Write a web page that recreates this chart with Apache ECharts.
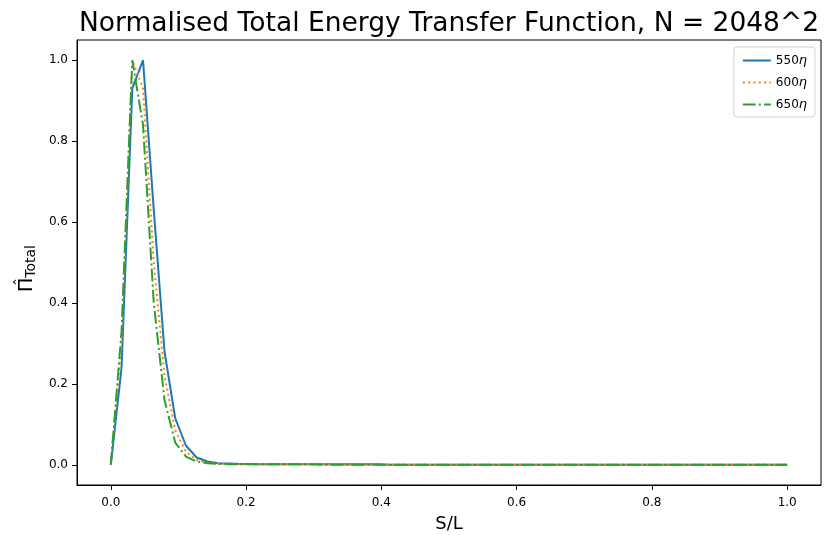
<!DOCTYPE html>
<html>
<head>
<meta charset="utf-8">
<script src="https://cdn.jsdelivr.net/npm/echarts@6/dist/echarts.min.js"></script>
<style>html,body{margin:0;padding:0;background:#fff}#c{width:825px;height:535px}</style>
</head>
<body>
<div id="c"></div>
<script>
// Data (64 samples on S/L in [0,1])
const seriesNames = ['550η', '600η', '650η'];
const pi550 = [
  0, 0.24, 0.93, 1.0, 0.63, 0.28, 0.115, 0.047,
  0.018, 0.008, 0.004, 0.003, 0.002, 0.002, 0.0015, 0.001,
  0.001, 0.001, 0.001, 0.001, 0.001, 0.001, 0.001, 0.001,
  0.001, 0.001, 0, 0, 0, 0, 0, 0,
  0, 0, 0, 0, 0, 0, 0, 0,
  0, 0, 0, 0, 0, 0, 0, 0,
  0, 0, 0, 0, 0, 0, 0, 0,
  0, 0, 0, 0, 0, 0, 0, 0
];
const pi600 = [
  0, 0.30, 1.0, 0.93, 0.50, 0.22, 0.085, 0.032,
  0.012, 0.005, 0.003, 0.002, 0.0015, 0.001, 0.001, 0.001,
  0.001, 0.001, 0.001, 0.001, 0.001, 0.001, 0, 0,
  0, 0, 0, 0, 0, 0, 0, 0,
  0, 0, 0, 0, 0, 0, 0, 0,
  0, 0, 0, 0, 0, 0, 0, 0,
  0, 0, 0, 0, 0, 0, 0, 0,
  0, 0, 0, 0, 0, 0, 0, 0
];
const pi650 = [
  0, 0.33, 1.0, 0.84, 0.40, 0.16, 0.055, 0.02,
  0.008, 0.004, 0.002, 0.0015, 0.001, 0.001, 0.001, 0.001,
  0.001, 0.001, 0.001, 0.001, 0, 0, 0, 0,
  0, 0, 0, 0, 0, 0, 0, 0,
  0, 0, 0, 0, 0, 0, 0, 0,
  0, 0, 0, 0, 0, 0, 0, 0,
  0, 0, 0, 0, 0, 0, 0, 0,
  0, 0, 0, 0, 0, 0, 0, 0
];
const xTicks = [0, 0.2, 0.4, 0.6, 0.8, 1.0];
const yTicks = [0, 0.2, 0.4, 0.6, 0.8, 1.0];

const sGrid = pi550.map((_, i) => i / (pi550.length - 1));
const pair = arr => arr.map((v, i) => [sGrid[i], v]);

const FONT = 'DejaVu Sans';
const chart = echarts.init(document.getElementById('c'), null, {renderer: 'canvas'});
const styles = [
  {color: '#1f77b4', type: 'solid'},
  {color: '#ff7f0e', type: [2, 3.3]},
  {color: '#2ca02c', type: [12.8, 3.2, 2, 3.2]}
];
const dataSets = [pi550, pi600, pi650];

chart.setOption({
  animation: false,
  backgroundColor: '#fff',
  textStyle: {fontFamily: FONT},
  title: {
    text: 'Normalised Total Energy Transfer Function, N = 2048^2',
    left: 74, top: 6,
    textStyle: {fontFamily: FONT, fontSize: 26.5, fontWeight: 'normal', color: '#000'}
  },
  legend: {
    orient: 'vertical',
    right: 10, top: 47,
    data: seriesNames,
    itemWidth: 28, itemHeight: 12, itemGap: 9,
    padding: [7, 8, 6, 8],
    borderColor: '#d0d0d0', borderWidth: 1, borderRadius: 3,
    backgroundColor: '#fff',
    itemStyle: {color: 'transparent', borderWidth: 0, opacity: 0},
    textStyle: {fontFamily: FONT, fontSize: 12, color: '#000', rich: {i: {fontStyle: 'italic', fontSize: 13, fontFamily: FONT}}},
    formatter: n => n.replace('η', '{i|η}')
  },
  grid: {
    left: 77, right: 4, top: 40, bottom: 50,
    outerBoundsMode: 'none', containLabel: false,
    show: true, borderColor: '#000', borderWidth: 1, backgroundColor: 'transparent'
  },
  graphic: [{
    type: 'text', x: 22, y: 282, rotation: Math.PI / 2, z: 10,
    style: {text: 'ˆ', fontFamily: FONT, fontSize: 16, fill: '#000', align: 'center', verticalAlign: 'middle'}
  }],
  xAxis: {
    type: 'value', min: -0.05, max: 1.05,
    name: 'S/L', nameLocation: 'middle', nameGap: 30,
    nameTextStyle: {fontFamily: FONT, fontSize: 18, color: '#000'},
    axisLine: {show: true, onZero: false, lineStyle: {color: '#000', width: 1}},
    axisTick: {show: true, length: 5, inside: false, customValues: xTicks, lineStyle: {color: '#000'}},
    axisLabel: {customValues: xTicks, formatter: v => v.toFixed(1), fontFamily: FONT, fontSize: 12, color: '#000', margin: 12},
    splitLine: {show: false}
  },
  yAxis: {
    type: 'value', min: -0.05, max: 1.05,
    name: '{p|Π}{s|Total}', nameLocation: 'middle', nameGap: 38, nameRotate: 90,
    nameTextStyle: {
      fontFamily: FONT, color: '#000', padding: [0, 12, 0, 0],
      rich: {
        p: {fontSize: 19, fontFamily: FONT, color: '#000'},
        s: {fontSize: 14, fontFamily: FONT, color: '#000', verticalAlign: 'bottom', padding: [8, 0, 0, 0]}
      }
    },
    axisLine: {show: true, onZero: false, lineStyle: {color: '#000', width: 1}},
    axisTick: {show: true, length: 5, inside: false, customValues: yTicks, lineStyle: {color: '#000'}},
    axisLabel: {customValues: yTicks, formatter: v => v.toFixed(1), fontFamily: FONT, fontSize: 12, color: '#000', margin: 9},
    splitLine: {show: false}
  },
  series: dataSets.map((d, k) => ({
    name: seriesNames[k],
    type: 'line',
    data: pair(d),
    symbol: 'none',
    showSymbol: false,
    smooth: false,
    z: 3 + k,
    color: styles[k].color,
    lineStyle: {color: styles[k].color, width: 2, type: styles[k].type}
  }))
});
</script>
</body>
</html>
